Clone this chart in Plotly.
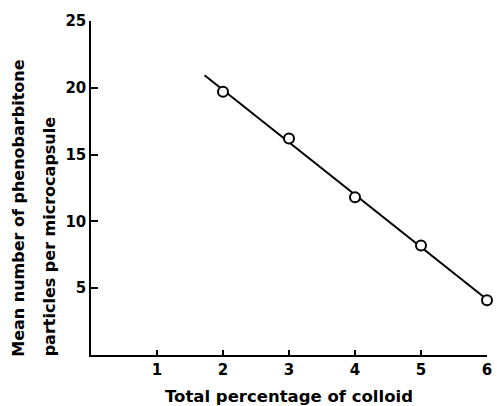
import numpy as np
import plotly.graph_objects as go

colloid_pct = [2, 3, 4, 5, 6]
mean_particles = [19.7, 16.2, 11.8, 8.2, 4.1]
x_ticks = [1, 2, 3, 4, 5, 6]
y_ticks = [5, 10, 15, 20, 25]
fit_x_range = [1.72, 6.0]
y_title_lines = ["Mean number of phenobarbitone", "particles per microcapsule"]
x_title = "Total percentage of colloid"

slope, intercept = np.polyfit(colloid_pct, mean_particles, 1)
fx = np.array(fit_x_range)
fy = slope * fx + intercept

FAM = "DejaVu Sans"
font = dict(family=FAM, size=15, color="black", weight="bold")

fig = go.Figure()
fig.add_trace(go.Scatter(x=fx, y=fy, mode="lines",
                         line=dict(color="black", width=2), showlegend=False,
                         cliponaxis=False, hoverinfo="skip"))
fig.add_trace(go.Scatter(x=colloid_pct, y=mean_particles, mode="markers",
                         marker=dict(symbol="circle", size=10, color="white",
                                     line=dict(color="black", width=2)),
                         showlegend=False, cliponaxis=False))

# y-axis title as two rotated lines, bottom-aligned
for xp, txt in zip([-0.182, -0.106], y_title_lines):
    fig.add_annotation(xref="paper", yref="paper", x=xp, y=-0.01,
                       text=txt, textangle=-90, showarrow=False,
                       xanchor="center", yanchor="bottom",
                       font=dict(family=FAM, size=16, color="black", weight="bold"))

fig.update_layout(
    width=497, height=406,
    margin=dict(l=91, r=10, t=21, b=51, autoexpand=False),
    paper_bgcolor="white", plot_bgcolor="white",
    font=font,
    xaxis=dict(range=[0, 6], tickvals=x_ticks, ticks="inside", ticklen=5,
               tickcolor="black", tickwidth=1.5, showline=True, linecolor="black",
               linewidth=1.5, showgrid=False, zeroline=False,
               title=dict(text=x_title, standoff=13,
                          font=dict(family=FAM, size=16.5, weight="bold"))),
    yaxis=dict(range=[0, 25], tickvals=y_ticks, ticks="inside", ticklen=7,
               tickcolor="black", tickwidth=1.5, showline=True, linecolor="black",
               linewidth=1.5, showgrid=False, zeroline=False),
)

fig.write_html("out.html", config={"displayModeBar": False},
               post_script="document.body.style.margin='0';"
                           "document.body.style.overflow='hidden';")
